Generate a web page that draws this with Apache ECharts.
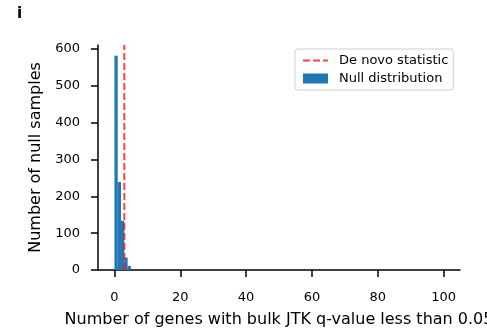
<!DOCTYPE html>
<html>
<head>
<meta charset="utf-8">
<script src="https://cdn.jsdelivr.net/npm/echarts@6/dist/echarts.min.js"></script>
<style>html,body{margin:0;padding:0;background:#fff}#c{width:487px;height:330px}</style>
</head>
<body>
<div id="c"></div>
<script>
// Histogram bins (left edge, right edge) and counts of the null distribution
var binStarts = [0, 1, 2, 3, 4];
var binEnds = [1, 2, 3, 4, 5];
var nullCounts = [582, 239, 134, 34, 11];
// De novo statistic value
var deNovoValue = 3;
// Axis tick labels
var xTicks = [0, 20, 40, 60, 80, 100];
var yTicks = [0, 100, 200, 300, 400, 500, 600];
var xMin = -5, xMax = 105, yMax = 611;

var FONT = 'DejaVu Sans';
var histData = binStarts.map(function (s, i) { return [s, binEnds[i], nullCounts[i]]; });

var chart = echarts.init(document.getElementById('c'), null, {renderer: 'canvas'});
chart.setOption({
  animation: false,
  backgroundColor: '#fff',
  textStyle: {fontFamily: FONT},
  title: {
    text: 'i', left: 12, top: 2,
    textStyle: {fontFamily: FONT, fontSize: 15, fontWeight: 'bold', color: '#000'}
  },
  grid: {left: 98, right: 27, top: 45, bottom: 60, containLabel: false, outerBoundsMode: 'none'},
  legend: {
    orient: 'vertical', left: 295, top: 49,
    padding: [5, 5, 5, 7], itemGap: 5,
    itemWidth: 25, itemHeight: 10,
    borderColor: '#d0d0d0', borderWidth: 1, borderRadius: 3,
    backgroundColor: '#fff',
    textStyle: {fontFamily: FONT, fontSize: 13, color: '#000', padding: [0, 0, 0, 6]},
    data: [
      {name: 'De novo statistic', itemStyle: {opacity: 0}},
      {name: 'Null distribution', icon: 'rect'}
    ]
  },
  xAxis: {
    type: 'value', min: xMin, max: xMax,
    name: 'Number of genes with bulk JTK q-value less than 0.05',
    nameLocation: 'middle', nameGap: 42,
    nameTextStyle: {fontFamily: FONT, fontSize: 16, color: '#000'},
    axisLine: {show: true, onZero: false, lineStyle: {color: '#000', width: 1.5}},
    axisTick: {show: true, customValues: xTicks, length: 7, lineStyle: {color: '#000', width: 1.5}},
    axisLabel: {customValues: xTicks, fontFamily: FONT, fontSize: 13, color: '#000', margin: 21},
    splitLine: {show: false}
  },
  yAxis: {
    type: 'value', min: 0, max: yMax,
    name: 'Number of null samples',
    nameLocation: 'middle', nameGap: 52, nameRotate: 90,
    nameTextStyle: {fontFamily: FONT, fontSize: 16, color: '#000'},
    axisLine: {show: true, onZero: false, lineStyle: {color: '#000', width: 1.5}},
    axisTick: {show: true, customValues: yTicks, length: 7, lineStyle: {color: '#000', width: 1.5}},
    axisLabel: {customValues: yTicks, fontFamily: FONT, fontSize: 13, color: '#000', margin: 18},
    splitLine: {show: false}
  },
  series: [
    {
      name: 'Null distribution',
      type: 'custom',
      itemStyle: {color: '#1f77b4'},
      encode: {x: [0, 1], y: 2},
      renderItem: function (params, api) {
        var p0 = api.coord([api.value(0), 0]);
        var p1 = api.coord([api.value(1), api.value(2)]);
        return {
          type: 'rect',
          shape: {x: p0[0], y: p1[1], width: p1[0] - p0[0], height: p0[1] - p1[1]},
          style: {fill: '#1f77b4'}
        };
      },
      data: histData,
      z: 2
    },
    {
      name: 'De novo statistic',
      type: 'line',
      symbol: 'none',
      data: [[deNovoValue, 0], [deNovoValue, yMax]],
      lineStyle: {color: 'rgba(255,20,20,0.8)', width: 2, type: [7, 3]},
      itemStyle: {color: 'rgba(255,20,20,0.8)'},
      z: 3
    }
  ]
});
</script>
</body>
</html>
